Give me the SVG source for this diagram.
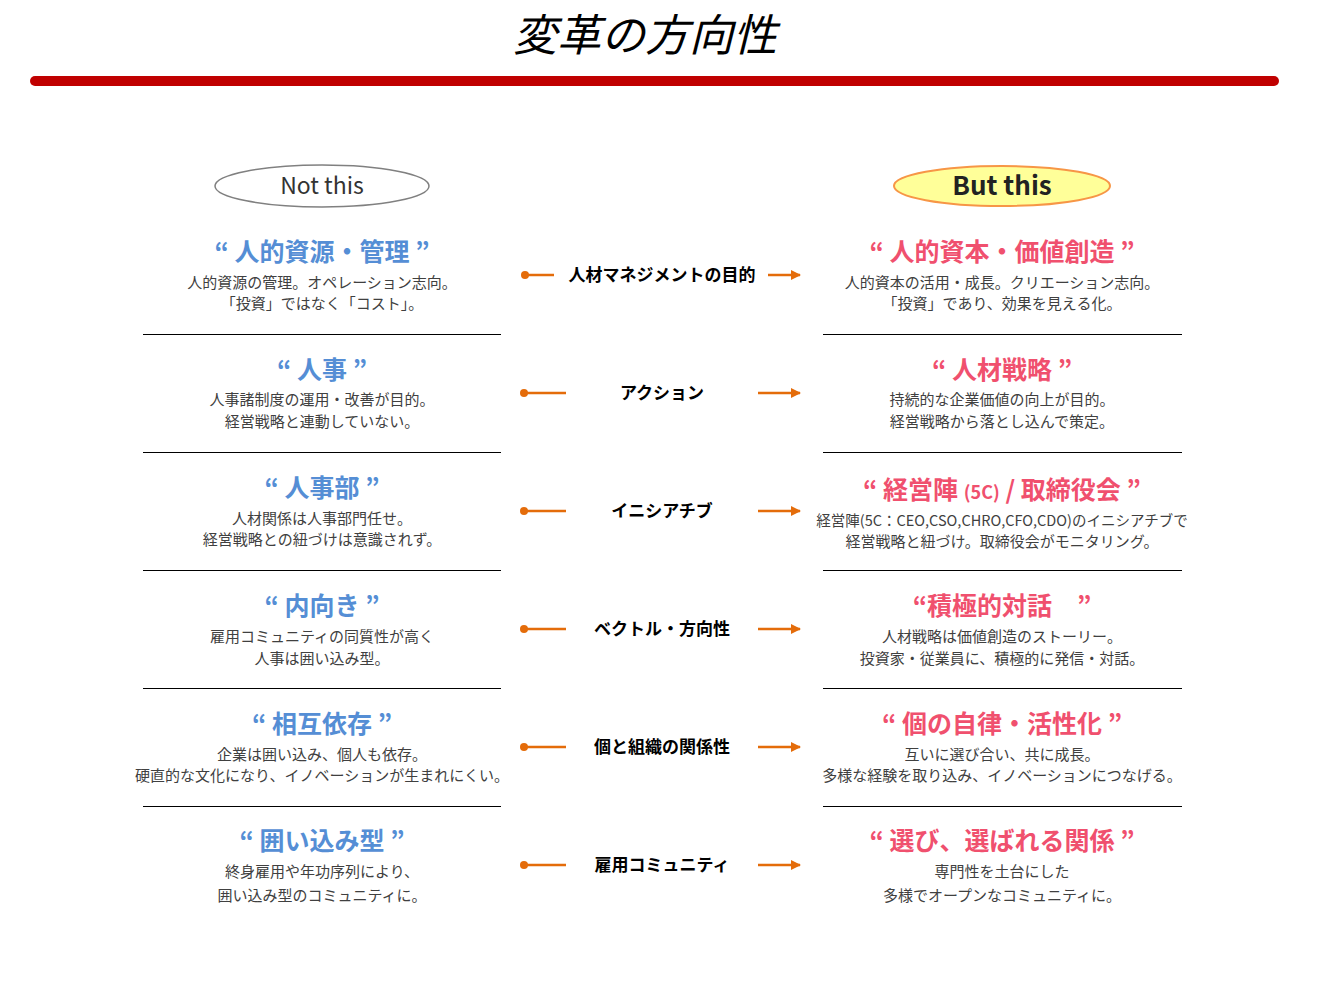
<svg xmlns="http://www.w3.org/2000/svg" width="1322" height="994" viewBox="0 0 1322 994">
<defs>
<marker id="ah" viewBox="0 0 10 10" refX="9" refY="5" markerWidth="4" markerHeight="4" orient="auto" markerUnits="strokeWidth"><path d="M0,0 L10,5 L0,10 z" fill="#E46C0A"/></marker>
<style>
text{font-family:"Noto Sans CJK JP","Noto Sans",sans-serif;text-anchor:middle}
.t{font-size:44px;font-style:italic;fill:#000}
.lt{font-size:25px;font-weight:bold;fill:#558ED5}
.rt{font-size:25px;font-weight:bold;fill:#F0506E}
.d{font-size:15px;fill:#404040}
.m{font-size:17px;font-weight:bold;fill:#000}
.sep{stroke:#000;stroke-width:1}
.cl{stroke:#E46C0A;stroke-width:2.5;fill:none}
.dot{fill:#E46C0A}
</style>
</defs>
<rect width="1322" height="994" fill="#fff"/>
<g id="title">
<text class="t" x="645" y="51">変革の方向性</text>
<rect x="30" y="76" width="1249" height="10" rx="5" fill="#C00000"/>
</g>
<g id="not-this">
<ellipse cx="322" cy="186" rx="107" ry="21" fill="#fff" stroke="#808080" stroke-width="1.5"/>
<text x="322" y="194" style="font-size:23px;fill:#333">Not this</text>
</g>
<g id="but-this">
<ellipse cx="1002" cy="186" rx="108" ry="20" fill="#FFFF99" stroke="#F79646" stroke-width="2"/>
<text x="1002" y="195" style="font-size:26px;font-weight:bold;fill:#222">But this</text>
</g>
<g id="separators">
<line class="sep" x1="143" y1="334.5" x2="501" y2="334.5"/><line class="sep" x1="823" y1="334.5" x2="1182" y2="334.5"/>
<line class="sep" x1="143" y1="452.5" x2="501" y2="452.5"/><line class="sep" x1="823" y1="452.5" x2="1182" y2="452.5"/>
<line class="sep" x1="143" y1="570.5" x2="501" y2="570.5"/><line class="sep" x1="823" y1="570.5" x2="1182" y2="570.5"/>
<line class="sep" x1="143" y1="688.5" x2="501" y2="688.5"/><line class="sep" x1="823" y1="688.5" x2="1182" y2="688.5"/>
<line class="sep" x1="143" y1="806.5" x2="501" y2="806.5"/><line class="sep" x1="823" y1="806.5" x2="1182" y2="806.5"/>
</g>
<g id="connectors">
<circle class="dot" cx="525" cy="275" r="4"/><line class="cl" x1="525" y1="275" x2="554" y2="275"/><line class="cl" x1="768" y1="275" x2="800" y2="275" marker-end="url(#ah)"/>
<circle class="dot" cx="524" cy="393" r="4"/><line class="cl" x1="524" y1="393" x2="566" y2="393"/><line class="cl" x1="758" y1="393" x2="800" y2="393" marker-end="url(#ah)"/>
<circle class="dot" cx="524" cy="511" r="4"/><line class="cl" x1="524" y1="511" x2="566" y2="511"/><line class="cl" x1="758" y1="511" x2="800" y2="511" marker-end="url(#ah)"/>
<circle class="dot" cx="524" cy="629" r="4"/><line class="cl" x1="524" y1="629" x2="566" y2="629"/><line class="cl" x1="758" y1="629" x2="800" y2="629" marker-end="url(#ah)"/>
<circle class="dot" cx="524" cy="747" r="4"/><line class="cl" x1="524" y1="747" x2="566" y2="747"/><line class="cl" x1="758" y1="747" x2="800" y2="747" marker-end="url(#ah)"/>
<circle class="dot" cx="524" cy="865" r="4"/><line class="cl" x1="524" y1="865" x2="566" y2="865"/><line class="cl" x1="758" y1="865" x2="800" y2="865" marker-end="url(#ah)"/>
</g>
<g id="row1">
<text class="lt" x="322" y="261">“ 人的資源・管理 ”</text>
<text class="d" x="322" y="288">人的資源の管理。オペレーション志向。</text>
<text class="d" x="322" y="309">「投資」ではなく「コスト」。</text>
<text class="m" x="662" y="281">人材マネジメントの目的</text>
<text class="rt" x="1002" y="261">“ 人的資本・価値創造 ”</text>
<text class="d" x="1002" y="288">人的資本の活用・成長。クリエーション志向。</text>
<text class="d" x="1002" y="309">「投資」であり、効果を見える化。</text>
</g>
<g id="row2">
<text class="lt" x="322" y="379">“ 人事 ”</text>
<text class="d" x="322" y="405">人事諸制度の運用・改善が目的。</text>
<text class="d" x="322" y="427">経営戦略と連動していない。</text>
<text class="m" x="662" y="399">アクション</text>
<text class="rt" x="1002" y="379">“ 人材戦略 ”</text>
<text class="d" x="1002" y="405">持続的な企業価値の向上が目的。</text>
<text class="d" x="1002" y="427">経営戦略から落とし込んで策定。</text>
</g>
<g id="row3">
<text class="lt" x="322" y="497">“ 人事部 ”</text>
<text class="d" x="322" y="524">人材関係は人事部門任せ。</text>
<text class="d" x="322" y="545">経営戦略との紐づけは意識されず。</text>
<text class="m" x="662" y="517">イニシアチブ</text>
<text class="rt" x="1002" y="499">“ 経営陣 <tspan style="font-size:18px">(5C)</tspan> / 取締役会 ”</text>
<text class="d" x="1002" y="526" style="font-size:14.5px">経営陣(5C：CEO,CSO,CHRO,CFO,CDO)のイニシアチブで</text>
<text class="d" x="1002" y="547">経営戦略と紐づけ。取締役会がモニタリング。</text>
</g>
<g id="row4">
<text class="lt" x="322" y="615">“ 内向き ”</text>
<text class="d" x="322" y="642">雇用コミュニティの同質性が高く</text>
<text class="d" x="322" y="664">人事は囲い込み型。</text>
<text class="m" x="662" y="635">ベクトル・方向性</text>
<text class="rt" x="1002" y="615">“積極的対話　”</text>
<text class="d" x="1002" y="642">人材戦略は価値創造のストーリー。</text>
<text class="d" x="1002" y="664">投資家・従業員に、積極的に発信・対話。</text>
</g>
<g id="row5">
<text class="lt" x="322" y="733">“ 相互依存 ”</text>
<text class="d" x="322" y="760">企業は囲い込み、個人も依存。</text>
<text class="d" x="322" y="781">硬直的な文化になり、イノベーションが生まれにくい。</text>
<text class="m" x="662" y="753">個と組織の関係性</text>
<text class="rt" x="1002" y="733">“ 個の自律・活性化 ”</text>
<text class="d" x="1002" y="760">互いに選び合い、共に成長。</text>
<text class="d" x="1002" y="781">多様な経験を取り込み、イノベーションにつなげる。</text>
</g>
<g id="row6">
<text class="lt" x="322" y="850">“ 囲い込み型 ”</text>
<text class="d" x="322" y="877">終身雇用や年功序列により、</text>
<text class="d" x="322" y="901">囲い込み型のコミュニティに。</text>
<text class="m" x="662" y="871">雇用コミュニティ</text>
<text class="rt" x="1002" y="850">“ 選び、選ばれる関係 ”</text>
<text class="d" x="1002" y="877">専門性を土台にした</text>
<text class="d" x="1002" y="901">多様でオープンなコミュニティに。</text>
</g>
</svg>
